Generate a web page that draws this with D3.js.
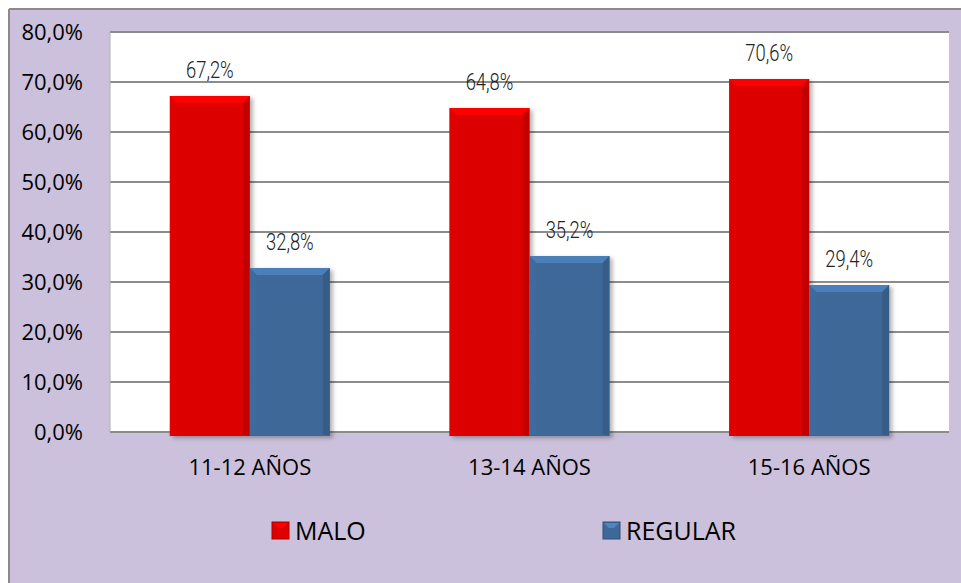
<!DOCTYPE html>
<html>
<head>
<meta charset="utf-8">
<script src="https://cdn.jsdelivr.net/npm/d3@7"></script>
<style>
  html, body { margin: 0; padding: 0; background: #ffffff; }
  svg { display: block; }
</style>
</head>
<body>
<svg id="chart"></svg>
<script>
const categories = ['11-12 AÑOS', '13-14 AÑOS', '15-16 AÑOS'];
const seriesNames = ['MALO', 'REGULAR'];
const malo = [67.2, 64.8, 70.6];
const regular = [32.8, 35.2, 29.4];
const yTicks = [0, 10, 20, 30, 40, 50, 60, 70, 80];

const W = 961, H = 583;
const margin = { top: 32, right: 12, bottom: 151, left: 110 };
const width = W - margin.left - margin.right;
const height = H - margin.top - margin.bottom;

const svg = d3.select('#chart').attr('width', W).attr('height', H);

const colors = { MALO: '#dc0000', REGULAR: '#3e6898' };
const fmt = v => v.toFixed(1).replace('.', ',') + '%';
const mainFont = "'Open Sans', 'Noto Sans', sans-serif";

const defs = svg.append('defs');
const shadow = defs.append('filter').attr('id', 'shadow')
  .attr('x', '-20%').attr('y', '-20%').attr('width', '150%').attr('height', '150%');
shadow.append('feDropShadow').attr('dx', 3).attr('dy', 2).attr('stdDeviation', 2)
  .attr('flood-color', '#000').attr('flood-opacity', 0.3);

// fondo exterior
svg.append('rect').attr('width', W).attr('height', H).attr('fill', '#ffffff');
svg.append('rect')
  .attr('x', 9).attr('y', 9).attr('width', W - 9).attr('height', H - 9)
  .attr('fill', '#cbc1dc');
svg.append('line').attr('x1', 9).attr('x2', W).attr('y1', 9).attr('y2', 9)
  .attr('stroke', '#8a8a8a').attr('stroke-width', 2);
svg.append('line').attr('x1', 9).attr('x2', 9).attr('y1', 9).attr('y2', H)
  .attr('stroke', '#8a8a8a').attr('stroke-width', 2);

const g = svg.append('g').attr('transform', `translate(${margin.left},${margin.top})`);

g.append('rect').attr('width', width).attr('height', height).attr('fill', '#ffffff');

const x0 = d3.scaleBand().domain(categories).range([0, width]);
const x1 = d3.scaleBand().domain(seriesNames).range([0, 160]);
const groupOffset = (x0.bandwidth() - 160) / 2;

const y = d3.scaleLinear().domain([0, 80]).range([height, 0]);

// rejilla
g.selectAll('.grid').data(yTicks).enter().append('line')
  .attr('x1', 0).attr('x2', width)
  .attr('y1', d => y(d)).attr('y2', d => y(d))
  .attr('stroke', '#8c8c8c').attr('stroke-width', 2);
g.append('line').attr('x1', 0).attr('x2', 0).attr('y1', 0).attr('y2', height)
  .attr('stroke', '#b0b0b0').attr('stroke-width', 1);

// etiquetas eje Y
g.selectAll('.ytick').data(yTicks).enter().append('text')
  .attr('x', -27).attr('y', d => y(d)).attr('dy', '0.36em')
  .attr('text-anchor', 'end')
  .style('font-family', mainFont)
  .style('font-size', '22px').attr('fill', '#000')
  .text(d => fmt(d));

// etiquetas eje X
g.selectAll('.xlab').data(categories).enter().append('text')
  .attr('x', d => x0(d) + x0.bandwidth() / 2).attr('y', height + 35).attr('dy', '0.36em')
  .attr('text-anchor', 'middle')
  .style('font-family', mainFont)
  .style('font-size', '22px').attr('fill', '#000')
  .text(d => d);

// barras
const rows = [];
categories.forEach((c, i) => {
  rows.push({ cat: c, key: 'MALO', value: malo[i] });
  rows.push({ cat: c, key: 'REGULAR', value: regular[i] });
});

const bev = 7;
const bars = g.selectAll('.bar').data(rows).enter().append('g')
  .attr('transform', d => `translate(${x0(d.cat) + groupOffset + x1(d.key)},0)`);

bars.each(function (d) {
  const sel = d3.select(this);
  const bw = x1.bandwidth();
  const top = y(d.value);
  const bot = y(0) + 4;
  const base = d3.color(colors[d.key]);
  sel.append('rect').attr('x', 0).attr('y', top).attr('width', bw).attr('height', bot - top)
    .attr('fill', base.formatHex()).attr('filter', 'url(#shadow)');
  sel.append('polygon')
    .attr('points', `0,${top} ${bw},${top} ${bw - bev},${top + bev} ${bev},${top + bev}`)
    .attr('fill', base.brighter(0.55).formatHex());
  sel.append('polygon')
    .attr('points', `0,${top} ${bev},${top + bev} ${bev},${bot - 2} 0,${bot}`)
    .attr('fill', base.brighter(0.1).formatHex()).attr('opacity', 0.6);
  sel.append('polygon')
    .attr('points', `${bw},${top} ${bw - bev},${top + bev} ${bw - bev},${bot - 2} ${bw},${bot}`)
    .attr('fill', base.darker(0.5).formatHex()).attr('opacity', 0.7);
  sel.append('rect').attr('x', bev).attr('y', top + bev).attr('width', bw - 2 * bev).attr('height', bot - top - bev - 2)
    .attr('fill', base.formatHex());
  // etiqueta de valor (fuente estrecha simulada)
  sel.append('text')
    .attr('transform', `translate(${bw / 2},${top - 18}) scale(0.8,1)`)
    .attr('text-anchor', 'middle')
    .style('font-family', "'Roboto', 'Liberation Sans', sans-serif")
    .style('font-weight', 300)
    .style('font-size', '23px').attr('fill', '#222')
    .text(fmt(d.value));
});

// leyenda
const legendX = [272, 603];
const leg = svg.selectAll('.legend').data(seriesNames).enter().append('g')
  .attr('transform', (d, i) => `translate(${legendX[i]},522)`);
leg.each(function (d) {
  const sel = d3.select(this);
  const base = d3.color(colors[d]);
  sel.append('rect').attr('width', 17).attr('height', 17).attr('fill', base.formatHex())
    .attr('stroke', base.darker(0.7).formatHex()).attr('stroke-width', 1);
  sel.append('polygon').attr('points', '1,1 16,1 11,6 6,6').attr('fill', base.brighter(0.7).formatHex());
  sel.append('text').attr('x', 23).attr('y', 9).attr('dy', '0.36em')
    .style('font-family', mainFont)
    .style('font-size', '25px').attr('fill', '#000')
    .text(d);
});
</script>
</body>
</html>
